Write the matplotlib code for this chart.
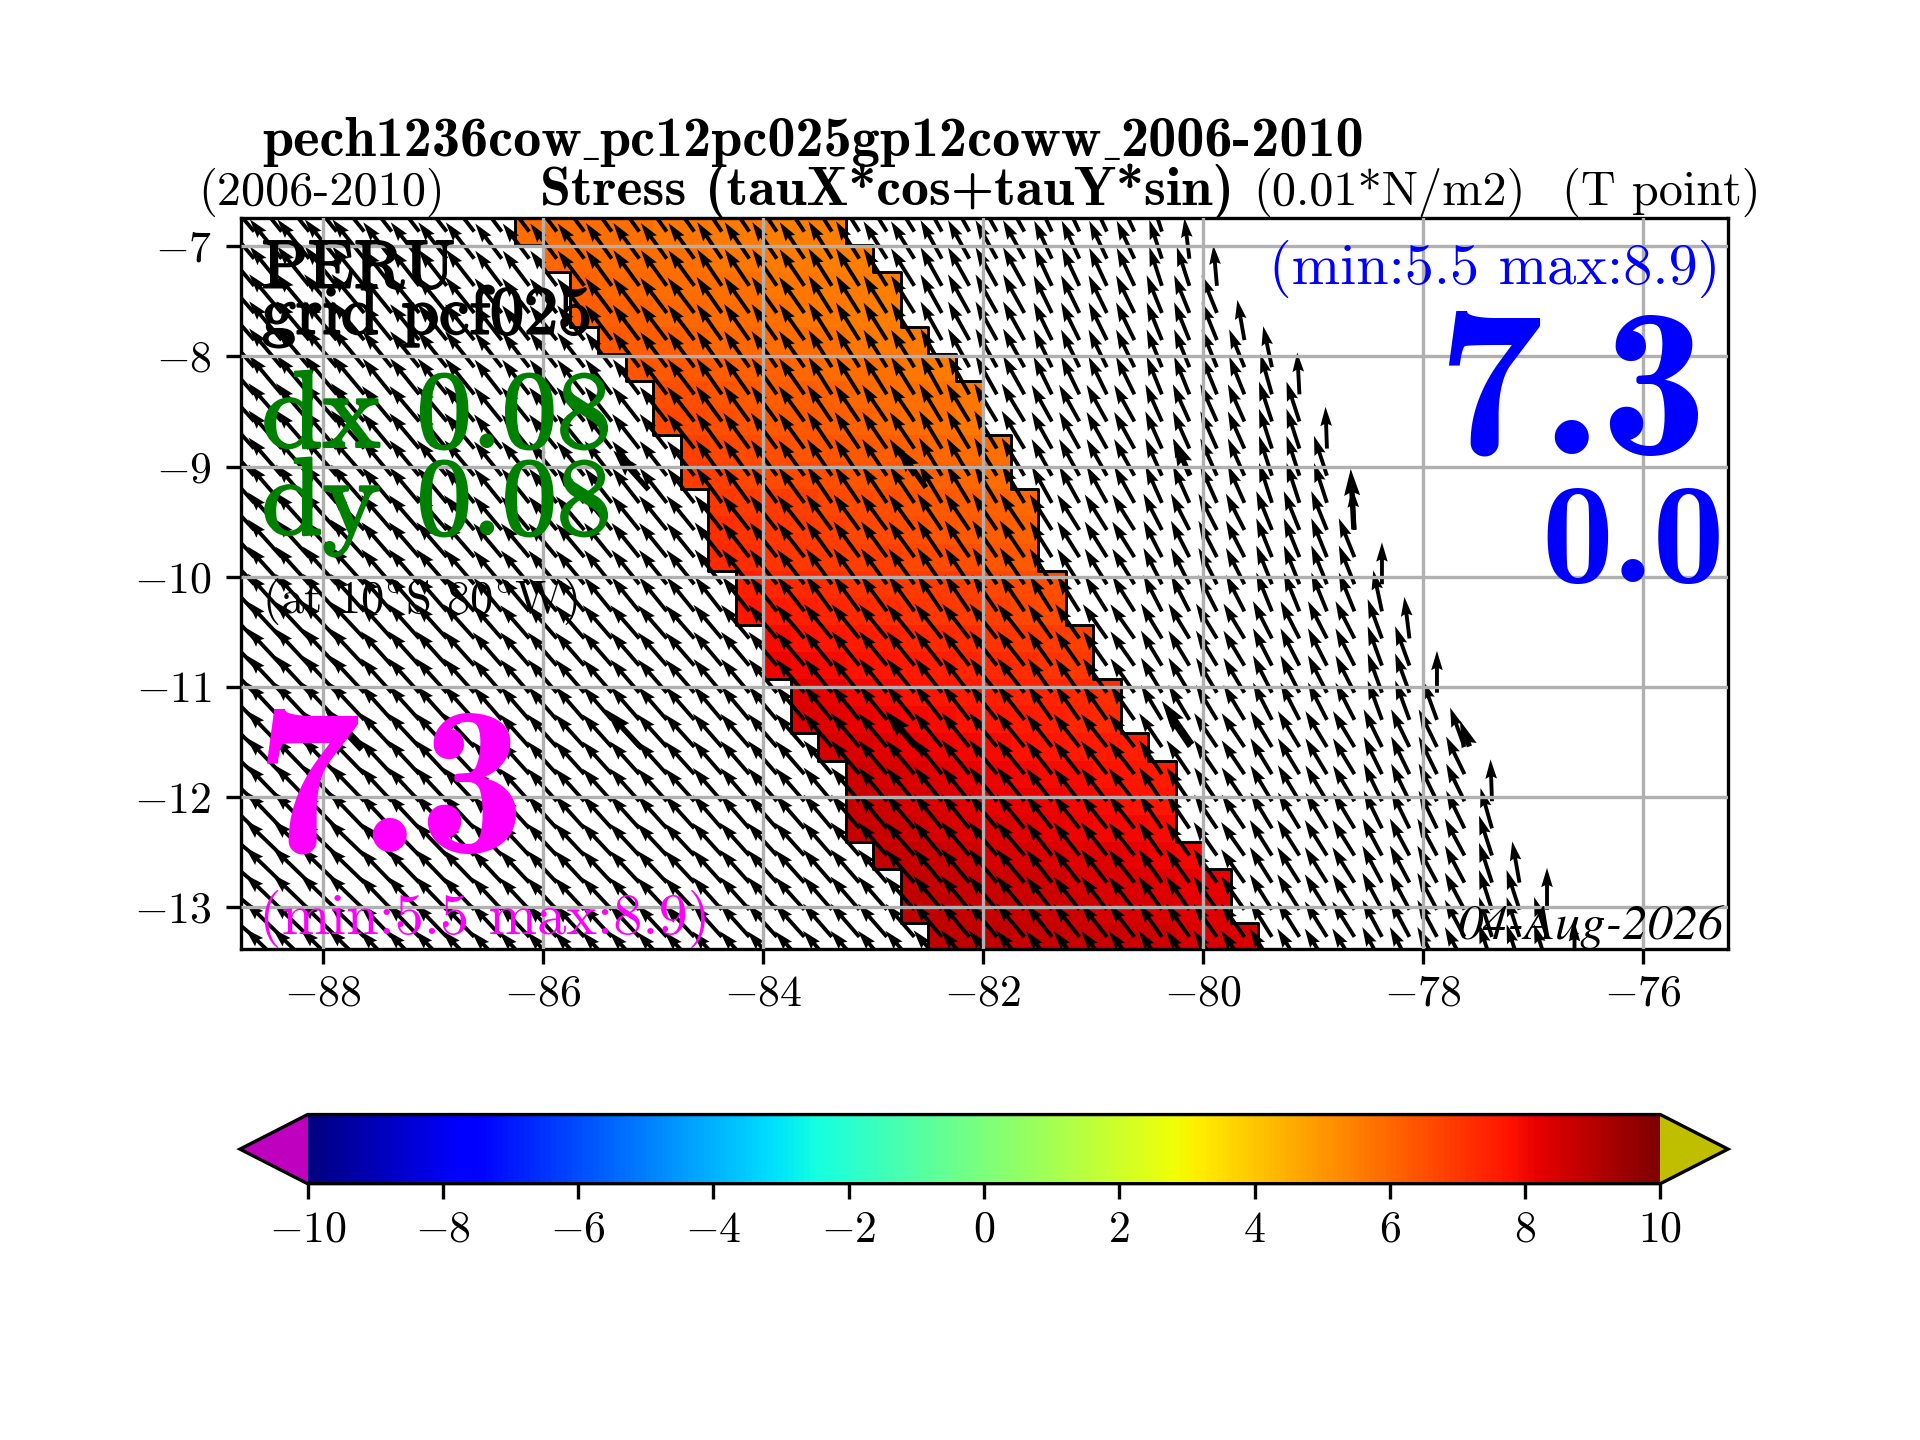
"""Stress field off Peru: staircase coastal band, wind arrows, jet colorbar"""
import numpy as np
import matplotlib
matplotlib.use('Agg')
import matplotlib.pyplot as plt
import matplotlib.patheffects as pe
from matplotlib.cm import ScalarMappable
from matplotlib.colors import Normalize

plt.rcParams['font.family'] = ['cmr10', 'DejaVu Sans']
plt.rcParams['mathtext.fontset'] = 'cm'
plt.rcParams['axes.formatter.use_mathtext'] = True
plt.rcParams['axes.unicode_minus'] = True

# Grid rows: top edge of the first row and Mercator row height, in degrees
LAT_TOP = -6.744
ROW_H = 0.2462
CELL_W = 0.25

# West edge of the 12-cell coastal band in each row
BAND_WEST = [-86.25, -86.0, -85.75, -85.75, -85.5, -85.25, -85.0, -85.0, -84.75,
             -84.75, -84.5, -84.5, -84.5, -84.25, -84.25, -84.0, -84.0, -83.75,
             -83.75, -83.5, -83.25, -83.25, -83.25, -83.0, -82.75, -82.75, -82.5]

BAND_VALUES = [
    [5.9, 5.9, 5.9, 5.8, 5.8, 5.7, 5.7, 5.6, 5.6, 5.5, 5.5, 5.5],
    [6.0, 6.0, 5.9, 5.9, 5.8, 5.8, 5.7, 5.7, 5.6, 5.6, 5.5, 5.5],
    [6.1, 6.0, 6.0, 5.9, 5.9, 5.8, 5.8, 5.7, 5.7, 5.6, 5.6, 5.5],
    [6.2, 6.1, 6.1, 6.0, 6.0, 5.9, 5.9, 5.8, 5.7, 5.7, 5.6, 5.5],
    [6.3, 6.2, 6.2, 6.1, 6.0, 6.0, 5.9, 5.9, 5.8, 5.7, 5.6, 5.6],
    [6.4, 6.3, 6.3, 6.2, 6.1, 6.1, 6.0, 5.9, 5.9, 5.8, 5.7, 5.6],
    [6.5, 6.5, 6.4, 6.3, 6.2, 6.2, 6.1, 6.0, 5.9, 5.8, 5.8, 5.7],
    [6.7, 6.6, 6.5, 6.4, 6.3, 6.3, 6.2, 6.1, 6.0, 5.9, 5.8, 5.7],
    [6.8, 6.7, 6.6, 6.5, 6.4, 6.4, 6.3, 6.2, 6.1, 6.0, 5.9, 5.8],
    [6.9, 6.8, 6.7, 6.6, 6.6, 6.5, 6.4, 6.3, 6.2, 6.1, 6.0, 5.9],
    [7.0, 6.9, 6.9, 6.8, 6.7, 6.6, 6.5, 6.4, 6.3, 6.2, 6.1, 6.0],
    [7.2, 7.1, 7.0, 6.9, 6.8, 6.7, 6.6, 6.5, 6.4, 6.3, 6.2, 6.1],
    [7.3, 7.2, 7.1, 7.0, 6.9, 6.8, 6.8, 6.7, 6.6, 6.5, 6.4, 6.3],
    [7.5, 7.4, 7.3, 7.2, 7.1, 7.0, 6.9, 6.9, 6.8, 6.7, 6.6, 6.5],
    [7.7, 7.6, 7.5, 7.4, 7.3, 7.2, 7.1, 7.0, 6.9, 6.8, 6.7, 6.6],
    [7.9, 7.8, 7.7, 7.6, 7.5, 7.4, 7.3, 7.2, 7.1, 7.0, 6.9, 6.8],
    [8.1, 8.0, 7.9, 7.8, 7.7, 7.6, 7.5, 7.4, 7.3, 7.2, 7.1, 7.0],
    [8.3, 8.2, 8.0, 7.9, 7.8, 7.7, 7.6, 7.5, 7.4, 7.4, 7.3, 7.2],
    [8.4, 8.3, 8.2, 8.1, 8.0, 7.9, 7.8, 7.7, 7.6, 7.5, 7.4, 7.3],
    [8.5, 8.4, 8.3, 8.2, 8.1, 8.0, 7.9, 7.8, 7.7, 7.6, 7.6, 7.5],
    [8.6, 8.5, 8.4, 8.3, 8.2, 8.1, 8.0, 7.9, 7.9, 7.8, 7.7, 7.6],
    [8.7, 8.6, 8.5, 8.4, 8.3, 8.2, 8.2, 8.1, 8.0, 7.9, 7.8, 7.7],
    [8.8, 8.7, 8.6, 8.5, 8.4, 8.4, 8.3, 8.2, 8.1, 8.0, 8.0, 7.9],
    [8.8, 8.8, 8.7, 8.6, 8.5, 8.5, 8.4, 8.3, 8.3, 8.2, 8.1, 8.0],
    [8.9, 8.8, 8.8, 8.7, 8.6, 8.6, 8.5, 8.4, 8.4, 8.3, 8.2, 8.2],
    [8.9, 8.9, 8.8, 8.8, 8.7, 8.6, 8.6, 8.5, 8.5, 8.4, 8.3, 8.3],
    [8.9, 8.9, 8.9, 8.8, 8.8, 8.7, 8.7, 8.6, 8.6, 8.5, 8.4, 8.4],
]

# Arrow columns, and the first (northernmost) row holding an arrow in each
ARROW_LONS = [-88.625, -88.375, -88.125, -87.875, -87.625, -87.375, -87.125, -86.875,
              -86.625, -86.375, -86.125, -85.875, -85.625, -85.375, -85.125, -84.875,
              -84.625, -84.375, -84.125, -83.875, -83.625, -83.375, -83.125, -82.875,
              -82.625, -82.375, -82.125, -81.875, -81.625, -81.375, -81.125, -80.875,
              -80.625, -80.375, -80.125, -79.875, -79.625, -79.375, -79.125, -78.875,
              -78.625, -78.375, -78.125, -77.875, -77.625, -77.375, -77.125, -76.875,
              -76.625]
ARROW_FIRST_ROW = [0] * 34 + [1, 2, 4, 5, 6, 8, 11, 13, 15, 17, 19, 21, 24, 25, 27]
# The top arrow of each eastern column stands nearly upright
TOP_ANGLES = [None] * 34 + [97, 95, 100, 102, 93, 92, 93, 90, 97, 90, 110, 92, 100, 90, 90]
N_ARROW_ROWS = 29

ANGLE_LATS = [-7, -8, -9, -10, -11, -12, -13]
ANGLE_LONS = [-89, -88, -87, -86, -85, -84, -83, -82, -81, -80, -79, -78, -77, -76]
ANGLES = [
    [130, 129, 128, 127, 126, 124, 122, 119, 115, 108, 98, 95, 95, 95],
    [131, 130, 129, 128, 127, 125, 122, 119, 116, 112, 106, 98, 92, 90],
    [132, 131, 130, 129, 128, 126, 124, 121, 119, 114, 108, 97, 92, 90],
    [133, 132, 131, 130, 129, 128, 126, 124, 122, 117, 112, 102, 92, 90],
    [134, 133, 132, 131, 131, 130, 129, 128, 125, 121, 117, 110, 100, 90],
    [136, 134, 133, 132, 132, 131, 130, 129, 128, 124, 121, 116, 106, 92],
    [140, 136, 134, 133, 133, 132, 131, 130, 128, 125, 122, 118, 108, 90],
]
LENGTHS = [0.50, 0.46, 0.42, 0.40, 0.40, 0.40, 0.40, 0.40, 0.38, 0.37, 0.38, 0.38, 0.38, 0.38]

# Coarser overlay of heavier arrows
BIG_LONS = [-87.65, -85.04, -82.52, -80.12, -78.63, -85.1, -82.57, -80.1, -77.58]
BIG_LATS = [-11.57, -9.21, -9.19, -9.08, -9.57, -11.56, -11.58, -11.52, -11.54]
BIG_ANGLES = [133, 132, 125, 114, 93, 133, 131, 125, 110]
BIG_LENGTHS = [0.48, 0.48, 0.46, 0.36, 0.55, 0.49, 0.48, 0.48, 0.25]

XTICKS = [-88, -86, -84, -82, -80, -78, -76]
YTICKS = [-13, -12, -11, -10, -9, -8, -7]
CBAR_TICKS = [-10, -8, -6, -4, -2, 0, 2, 4, 6, 8, 10]

cmap = plt.get_cmap('jet').copy()
cmap.set_under('#bf00bf')
cmap.set_over('#bfbf00')
norm = Normalize(vmin=-10, vmax=10)

fig = plt.figure(figsize=(6.4, 4.8), dpi=300)
ax = fig.add_axes([0.1255, 0.341, 0.7745, 0.5076])

# Coastal band, one row at a time
for k, (west, vals) in enumerate(zip(BAND_WEST, BAND_VALUES)):
    y0, y1 = LAT_TOP - ROW_H * k, LAT_TOP - ROW_H * (k + 1)
    edges = west + CELL_W * np.arange(len(vals) + 1)
    ax.pcolormesh(edges, [y1, y0], [vals], cmap=cmap, norm=norm, zorder=0)

west = np.array(BAND_WEST)
east = west + CELL_W * 12
tops = LAT_TOP - ROW_H * np.arange(len(west))
bots = tops - ROW_H
for edge in (west, east):
    xs = np.column_stack([edge, edge]).ravel()
    ys = np.column_stack([tops, bots]).ravel()
    ax.plot(xs, ys, color='k', lw=0.7, zorder=0.5)

# Arrow field
lon, lat, ang, mag = [], [], [], []
for x, first, top in zip(ARROW_LONS, ARROW_FIRST_ROW, TOP_ANGLES):
    col = ANGLE_LONS.index(int(round(x)))
    for k in range(first, N_ARROW_ROWS):
        y = LAT_TOP - ROW_H * (k + 0.5)
        row = ANGLE_LATS.index(int(np.clip(round(y), -13, -7)))
        lon.append(x)
        lat.append(y)
        ang.append(top if (k == first and top is not None) else ANGLES[row][col])
        mag.append(LENGTHS[col])
ang = np.radians(ang)
mag = np.array(mag)
ax.quiver(lon, lat, mag * np.cos(ang), mag * np.sin(ang),
          angles='uv', scale_units='xy', scale=1, width=0.0026, zorder=1)
big = np.radians(BIG_ANGLES)
big_len = np.array(BIG_LENGTHS)
ax.quiver(BIG_LONS, BIG_LATS, big_len * np.cos(big), big_len * np.sin(big),
          angles='uv', scale_units='xy', scale=1, width=0.0036, zorder=1)

ax.set_xlim(-88.745, -75.23)
ax.set_ylim(-13.378, -6.744)
ax.set_xticks(XTICKS)
ax.set_yticks(YTICKS)
ax.grid(True, color='#b0b0b0', lw=0.8)
ax.set_axisbelow(False)
ax.tick_params(labelsize=10.5)
ax.tick_params(axis='x', pad=2.5)

# Titles above the map
ta = ax.transAxes
bold = ['cmb10', 'DejaVu Sans']
# cmb10 has no underscore glyph, so the long title goes piece by piece
renderer = fig.canvas.get_renderer()
ax_px = ax.get_window_extent(renderer).width
x_pos = 0.014
for piece in ['pech1236cow', '_', 'pc12pc025gp12coww', '_', '2006-2010']:
    if piece == '_':
        t = ax.text(x_pos, 1.085, piece, transform=ta, fontsize=7,
                    family='Liberation Serif', weight='bold')
    else:
        t = ax.text(x_pos, 1.085, piece, transform=ta, fontsize=13.5, family=bold)
    x_pos += t.get_window_extent(renderer).width / ax_px + 0.0012
ax.text(-0.0285, 1.018, '(2006-2010)', transform=ta, fontsize=11.6)
ax.text(0.2008, 1.018, 'Stress (tauX*cos+tauY*sin)', transform=ta, fontsize=13.4, family=bold)
ax.text(0.681, 1.018, '(0.01*N/m2)', transform=ta, fontsize=11.6)
ax.text(1.022, 1.018, '(T point)', transform=ta, fontsize=11.6, ha='right')

# Labels inside the map
heavy = [pe.withStroke(linewidth=0.5, foreground='k')]
heavy_g = [pe.withStroke(linewidth=0.6, foreground='g')]
ax.text(0.014, 0.905, 'PERU', transform=ta, fontsize=16.3, color='k', path_effects=heavy)
ax.text(0.014, 0.842, 'grid pcf025', transform=ta, fontsize=16.3, color='k', path_effects=heavy)
ax.text(0.014, 0.687, 'dx 0.08', transform=ta, fontsize=26.3, color='g', path_effects=heavy_g)
ax.text(0.014, 0.568, 'dy 0.08', transform=ta, fontsize=26.3, color='g', path_effects=heavy_g)
ax.text(0.014, 0.46, r'(at 10$^{\circ}$S 80$^{\circ}$W)', transform=ta, fontsize=11.2)
ax.text(0.009, 0.134, '7.3', transform=ta, fontsize=51, color='#ff00ff', family='cmb10')
ax.text(0.012, 0.02, '(min:5.5 max:8.9)', transform=ta, fontsize=14, color='#ff00ff')
ax.text(0.995, 0.91, '(min:5.5 max:8.9)', transform=ta, fontsize=14, color='b', ha='right')
ax.text(0.986, 0.678, '7.3', transform=ta, fontsize=51, color='b', ha='right', family='cmb10')
ax.text(0.998, 0.502, '0.0', transform=ta, fontsize=34.5, color='b', ha='right', family='cmb10')
ax.text(0.997, 0.013, '04-Aug-2026', transform=ta, fontsize=12.1, ha='right',
        family='STIXGeneral', style='italic')

# Colorbar with both extensions
cax = fig.add_axes([0.125, 0.178, 0.775, 0.048])
cb = fig.colorbar(ScalarMappable(norm=norm, cmap=cmap), cax=cax, orientation='horizontal',
                  extend='both', ticks=CBAR_TICKS)
cb.ax.tick_params(labelsize=10.5, pad=3)

fig.savefig('out.png', dpi=300)
